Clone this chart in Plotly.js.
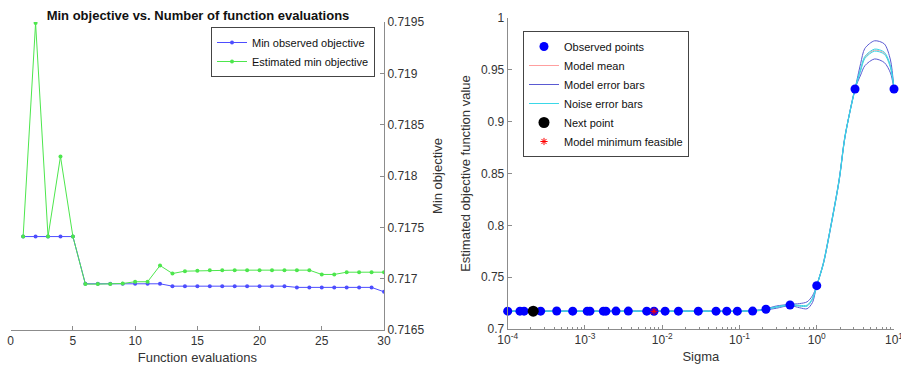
<!DOCTYPE html>
<html>
<head>
<meta charset="utf-8">
<script src="https://cdn.plot.ly/plotly-3.0.1.min.js"></script>
<style>html,body{margin:0;padding:0;background:#fff;}#chart{width:901px;height:365px;}</style>
</head>
<body>
<div id="chart"></div>
<script>
// ---------- Left panel data ----------
const evals = [1,2,3,4,5,6,7,8,9,10,11,12,13,14,15,16,17,18,19,20,21,22,23,24,25,26,27,28,29,30];
const minObserved = [0.71741,0.71741,0.71741,0.71741,0.71741,
  0.71695,0.71695,0.71695,0.71695,0.71695,0.71695,0.71695,
  0.716927,0.716927,0.716927,0.716927,0.716927,0.716927,0.716927,0.716927,0.716927,0.716927,
  0.716915,0.716915,0.716915,0.716915,0.716915,0.716915,0.716915,0.716872];
const estimatedMin = [0.71741,0.71949,0.71741,0.71819,0.71741,
  0.716947,0.716947,0.716947,0.716953,0.71697,0.71697,0.717128,
  0.71705,0.717073,0.717076,0.717083,0.717083,0.717083,0.717083,0.717083,0.717083,0.717083,0.717083,0.717083,
  0.717041,0.717041,0.717063,0.717063,0.717063,0.717063];

// ---------- Right panel data ----------
const obsSigma = [1.0e-4,1.44e-4,1.63e-4,2.67e-4,4.31e-4,6.94e-4,1.07e-3,1.16e-3,1.73e-3,1.87e-3,2.52e-3,3.64e-3,6.30e-3,7.83e-3,1.09e-2,1.62e-2,2.93e-2,4.97e-2,6.84e-2,9.38e-2,0.148,0.220,0.451,1.0,3.13,10];
const obsValue = [0.7172,0.7172,0.7172,0.7172,0.7174,0.7172,0.7172,0.7172,0.7172,0.7172,0.7173,0.7173,0.7172,0.7171,0.7172,0.7172,0.7172,0.7172,0.7172,0.7172,0.7173,0.7190,0.7232,0.7418,0.9315,0.9315];

const curveSigma = [1e-4,3e-4,1e-3,3e-3,1e-2,3e-2,0.1,0.15,0.22,0.3,0.45,0.6,0.75,0.88,1.0,1.22,1.49,1.95,2.32,3.13,3.7,4.2,5.6,7.5,9,10];
const modelMean  = [0.7172,0.7172,0.7172,0.7172,0.7172,0.7172,0.7172,0.7175,0.7190,0.7212,0.7232,0.7224,0.7225,0.7290,0.7418,0.7634,0.7955,0.8437,0.8855,0.9315,0.9500,0.9620,0.9690,0.9660,0.9530,0.9315];
const modelUpper = [0.7174,0.7174,0.7174,0.7174,0.7174,0.7174,0.7174,0.7178,0.7195,0.7222,0.7238,0.7245,0.7262,0.7320,0.7418,0.7640,0.7962,0.8445,0.8862,0.9315,0.9560,0.9707,0.9780,0.9750,0.9595,0.9315];
const modelLower = [0.7170,0.7170,0.7170,0.7170,0.7170,0.7170,0.7170,0.7172,0.7185,0.7200,0.7226,0.7205,0.7195,0.7255,0.7418,0.7628,0.7948,0.8430,0.8848,0.9315,0.9450,0.9540,0.9605,0.9570,0.9470,0.9315];
const noiseUpper = [0.7173,0.7173,0.7173,0.7173,0.7173,0.7173,0.7173,0.7176,0.7192,0.7215,0.7235,0.7228,0.7230,0.7296,0.7422,0.7640,0.7962,0.8444,0.8862,0.9320,0.9510,0.9630,0.9700,0.9670,0.9540,0.9320];
const noiseLower = [0.7171,0.7171,0.7171,0.7171,0.7171,0.7171,0.7171,0.7174,0.7188,0.7209,0.7229,0.7220,0.7220,0.7284,0.7414,0.7628,0.7948,0.8430,0.8848,0.9310,0.9490,0.9610,0.9680,0.9650,0.9520,0.9310];

const nextSigma = [2.14e-4];
const nextValue = [0.7172];
const minFeasSigma = [7.83e-3];
const minFeasValue = [0.7171];

const sigmaTickVals = [1e-4,1e-3,1e-2,1e-1,1,10];
const sigmaTickText = ['10<sup>-4</sup>','10<sup>-3</sup>','10<sup>-2</sup>','10<sup>-1</sup>','10<sup>0</sup>','10<sup>1</sup>'];

const FONT = 'Liberation Sans, Arial, Helvetica, sans-serif';
const TXT = '#333333';
const AX = '#8c8c8c';

const traces = [
  {x: evals, y: minObserved, type:'scatter', mode:'lines+markers', name:'Min observed objective',
   line:{color:'#4d4dff', width:1}, marker:{color:'#4d4dff', size:4}, xaxis:'x', yaxis:'y', legend:'legend'},
  {x: evals, y: estimatedMin, type:'scatter', mode:'lines+markers', name:'Estimated min objective',
   line:{color:'#4de64d', width:1}, marker:{color:'#4de64d', size:4}, xaxis:'x', yaxis:'y', legend:'legend'},

  {x: curveSigma, y: modelMean, type:'scatter', mode:'lines', name:'Model mean', line:{color:'#ff9f9f', width:1, shape:'spline', smoothing:0.8},
   xaxis:'x2', yaxis:'y2', legend:'legend2', legendrank:2},
  {x: curveSigma, y: modelUpper, type:'scatter', mode:'lines', name:'Model error bars', line:{color:'#5a5ad2', width:1, shape:'spline', smoothing:0.8},
   xaxis:'x2', yaxis:'y2', legend:'legend2', legendrank:3},
  {x: curveSigma, y: modelLower, type:'scatter', mode:'lines', name:'Model error bars', showlegend:false, line:{color:'#5a5ad2', width:1, shape:'spline', smoothing:0.8},
   xaxis:'x2', yaxis:'y2', legend:'legend2'},
  {x: curveSigma, y: noiseUpper, type:'scatter', mode:'lines', name:'Noise error bars', line:{color:'#3ad8e8', width:1, shape:'spline', smoothing:0.8},
   xaxis:'x2', yaxis:'y2', legend:'legend2', legendrank:4},
  {x: curveSigma, y: noiseLower, type:'scatter', mode:'lines', name:'Noise error bars', showlegend:false, line:{color:'#3ad8e8', width:1, shape:'spline', smoothing:0.8},
   xaxis:'x2', yaxis:'y2', legend:'legend2'},
  {x: obsSigma, y: obsValue, type:'scatter', mode:'markers', name:'Observed points', marker:{color:'#0000ff', size:9},
   xaxis:'x2', yaxis:'y2', legend:'legend2', legendrank:1, cliponaxis:false},
  {x: nextSigma, y: nextValue, type:'scatter', mode:'markers', name:'Next point', marker:{color:'#000000', size:11},
   xaxis:'x2', yaxis:'y2', legend:'legend2', legendrank:5},
  {x: minFeasSigma, y: minFeasValue, type:'scatter', mode:'markers', name:'Model minimum feasible', marker:{color:'#ff0000', size:6, symbol:'asterisk-open', line:{color:'#ff0000', width:1}},
   xaxis:'x2', yaxis:'y2', legend:'legend2', legendrank:6}
];

const layout = {
  width: 901, height: 365,
  margin: {l:0, r:0, t:0, b:0},
  paper_bgcolor:'#ffffff', plot_bgcolor:'rgba(0,0,0,0)',
  font: {family: FONT, size: 12, color: TXT},
  showlegend: true,
  title: {text:'Min objective vs. Number of function evaluations', x: 198/901, y: 1-15/365, xanchor:'center', yanchor:'middle',
          xref:'paper', yref:'paper', font:{family:FONT, size:13, weight:'bold', color:'#111'}},
  xaxis: {domain:[10.7/901, 384/901], range:[0,30], dtick:5, tick0:0, anchor:'y',
    ticks:'inside', ticklen:4, tickcolor:AX, showline:true, linecolor:AX, linewidth:1, showgrid:false, zeroline:false,
    tickfont:{size:12, color:TXT}, ticklabeloverflow:'allow',
    title:{text:'Function evaluations', font:{size:13, color:TXT}, standoff:6}},
  yaxis: {domain:[1-330/365, 1-22/365], range:[0.7165,0.7195], dtick:0.0005, tick0:0.7165, side:'right', anchor:'x',
    ticks:'inside', ticklen:4, tickcolor:AX, showline:true, linecolor:AX, linewidth:1, showgrid:false, zeroline:false,
    tickfont:{size:12, color:TXT}, ticklabeloverflow:'allow',
    title:{text:'Min objective', font:{size:13, color:TXT}, standoff:9}},
  xaxis2: {domain:[507.7/901, 894/901], type:'log', range:[-4,1], anchor:'y2',
    tickmode:'array', tickvals: sigmaTickVals, ticktext: sigmaTickText, ticklabeloverflow:'allow',
    ticks:'inside', ticklen:4, tickcolor:AX, showline:true, linecolor:AX, linewidth:1, showgrid:false, zeroline:false,
    minor:{ticks:'inside', ticklen:2, tickcolor:AX, dtick:'D1', tickmode:'linear'},
    tickfont:{size:12, color:TXT},
    title:{text:'Sigma', font:{size:13, color:TXT}, standoff:5}},
  yaxis2: {domain:[1-329/365, 1-18/365], range:[0.7,1], dtick:0.05, tick0:0.7, anchor:'x2',
    ticks:'inside', ticklen:4, tickcolor:AX, showline:true, linecolor:AX, linewidth:1, showgrid:false, zeroline:false,
    tickfont:{size:12, color:TXT}, ticklabeloverflow:'allow',
    title:{text:'Estimated objective function value', font:{size:13, color:TXT}, standoff:7}},
  legend: {x:211/901, y:1-27/365, xanchor:'left', yanchor:'top', bgcolor:'#ffffff', bordercolor:'#444', borderwidth:1,
    font:{size:11, color:'#111'}, tracegroupgap:0, itemwidth:30},
  legend2: {x:523/901, y:1-31/365, xanchor:'left', yanchor:'top', bgcolor:'#ffffff', bordercolor:'#444', borderwidth:1,
    font:{size:11, color:'#111'}, tracegroupgap:0, itemwidth:30, traceorder:'normal'}
};

Plotly.newPlot('chart', traces, layout, {displayModeBar:false, staticPlot:true});
</script>
</body>
</html>
